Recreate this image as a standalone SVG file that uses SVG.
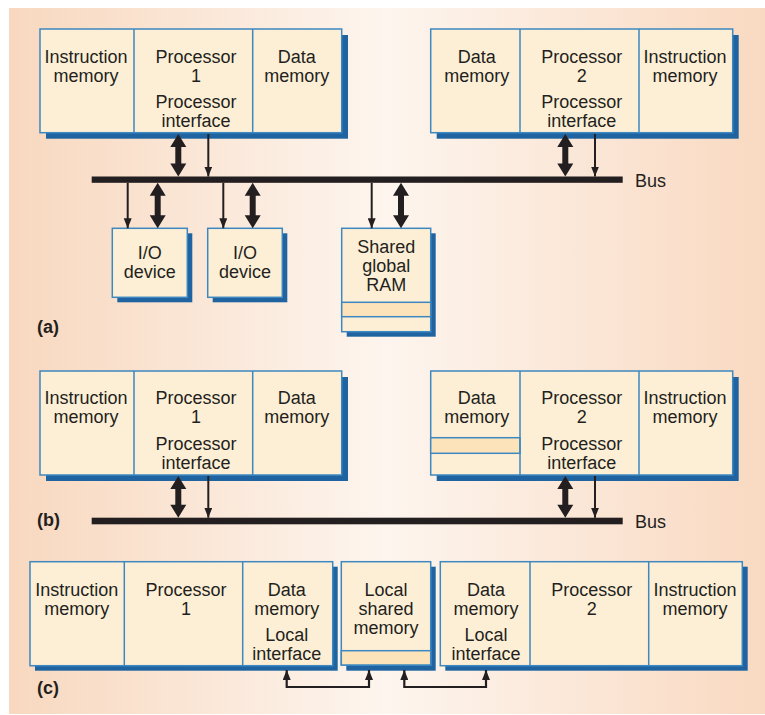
<svg xmlns="http://www.w3.org/2000/svg" width="765" height="715" viewBox="0 0 765 715">
<defs>
<linearGradient id="bg" x1="0" y1="0" x2="1" y2="0">
<stop offset="0" stop-color="#f8d8bf"/>
<stop offset="0.5" stop-color="#fdf5ee"/>
<stop offset="1" stop-color="#f9d9c1"/>
</linearGradient>
<marker id="ah" viewBox="0 0 10 8" refX="10" refY="4" markerWidth="10" markerHeight="8" markerUnits="userSpaceOnUse" orient="auto-start-reverse">
<path d="M0,0 L10,4 L0,8 Z" fill="#231f20"/>
</marker>
</defs>
<style>
.sh{fill:#1f64a0}
.bx{fill:#fdefd6;stroke:#3d88c0;stroke-width:1.5}
.st{fill:#fde3b9;stroke:#3d88c0;stroke-width:1.5}
.dv{stroke:#3d88c0;stroke-width:1.5;fill:none}
.t{font-family:"Liberation Sans",Arial,sans-serif;font-size:18px;fill:#231f20;text-anchor:middle}
.lb{font-family:"Liberation Sans",Arial,sans-serif;font-size:18px;font-weight:bold;fill:#231f20}
.bl{font-family:"Liberation Sans",Arial,sans-serif;font-size:18px;fill:#231f20}
.bus{fill:#231f20}
.thin{stroke:#231f20;stroke-width:2;fill:none;marker-end:url(#ah)}
.thk{fill:#231f20}
.cn{stroke:#231f20;stroke-width:2.2;fill:none;marker-start:url(#ah);marker-end:url(#ah)}
</style>
<rect x="9" y="8" width="756" height="706" fill="url(#bg)"/>

<!-- (a) -->
<g id="a-proc1">
<rect class="sh" x="46" y="35" width="302" height="103.7"/>
<rect class="bx" x="40" y="29" width="301.7" height="103.7"/>
<line class="dv" x1="134" y1="29" x2="134" y2="132.7"/>
<line class="dv" x1="252.7" y1="29" x2="252.7" y2="132.7"/>
<text class="t" x="86" y="63.3">Instruction</text>
<text class="t" x="86" y="82.3">memory</text>
<text class="t" x="196" y="63.3">Processor</text>
<text class="t" x="196" y="82.3">1</text>
<text class="t" x="196" y="108">Processor</text>
<text class="t" x="196" y="127">interface</text>
<text class="t" x="296.7" y="63.3">Data</text>
<text class="t" x="296.7" y="82.3">memory</text>
</g>
<g id="a-proc2">
<rect class="sh" x="436.7" y="35" width="302" height="103.7"/>
<rect class="bx" x="430.7" y="29" width="302" height="103.7"/>
<line class="dv" x1="520" y1="29" x2="520" y2="132.7"/>
<line class="dv" x1="639" y1="29" x2="639" y2="132.7"/>
<text class="t" x="476.7" y="63.3">Data</text>
<text class="t" x="476.7" y="82.3">memory</text>
<text class="t" x="581.7" y="63.3">Processor</text>
<text class="t" x="581.7" y="82.3">2</text>
<text class="t" x="581.7" y="108">Processor</text>
<text class="t" x="581.7" y="127">interface</text>
<text class="t" x="685" y="63.3">Instruction</text>
<text class="t" x="685" y="82.3">memory</text>
</g>
<g id="a-bus">
<rect class="bus" x="91.7" y="176.5" width="531" height="6.3"/>
<text class="bl" x="635" y="186.7">Bus</text>
</g>
<g id="a-io1">
<rect class="sh" x="117.3" y="233.3" width="75" height="69"/>
<rect class="bx" x="112.3" y="228.3" width="75" height="69"/>
<text class="t" x="149.8" y="258.8">I/O</text>
<text class="t" x="149.8" y="277.8">device</text>
</g>
<g id="a-io2">
<rect class="sh" x="212.7" y="233.3" width="74.6" height="69"/>
<rect class="bx" x="207.7" y="228.3" width="74.6" height="69"/>
<text class="t" x="245" y="258.8">I/O</text>
<text class="t" x="245" y="277.8">device</text>
</g>
<g id="a-ram">
<rect class="sh" x="346.7" y="233.3" width="89" height="103.4"/>
<rect class="bx" x="341.7" y="228.3" width="89" height="103.4"/>
<rect class="st" x="341.7" y="302.3" width="89" height="14.4"/>
<text class="t" x="386.2" y="252.7">Shared</text>
<text class="t" x="386.2" y="271.7">global</text>
<text class="t" x="386.2" y="290.7">RAM</text>
</g>
<text class="lb" x="37" y="333">(a)</text>

<!-- (b) -->
<g id="b-proc1">
<rect class="sh" x="46" y="377" width="302" height="104"/>
<rect class="bx" x="40" y="371" width="301.7" height="104"/>
<line class="dv" x1="134" y1="371" x2="134" y2="475"/>
<line class="dv" x1="252.7" y1="371" x2="252.7" y2="475"/>
<text class="t" x="86" y="404.3">Instruction</text>
<text class="t" x="86" y="423.3">memory</text>
<text class="t" x="196" y="404.3">Processor</text>
<text class="t" x="196" y="423.3">1</text>
<text class="t" x="196" y="449.5">Processor</text>
<text class="t" x="196" y="468.7">interface</text>
<text class="t" x="296.7" y="404.3">Data</text>
<text class="t" x="296.7" y="423.3">memory</text>
</g>
<g id="b-proc2">
<rect class="sh" x="436.7" y="377" width="302" height="104"/>
<rect class="bx" x="430.7" y="371" width="302" height="104"/>
<rect class="st" x="430.7" y="437.7" width="89.3" height="15.6"/>
<line class="dv" x1="520" y1="371" x2="520" y2="475"/>
<line class="dv" x1="639" y1="371" x2="639" y2="475"/>
<text class="t" x="476.7" y="404.3">Data</text>
<text class="t" x="476.7" y="423.3">memory</text>
<text class="t" x="581.7" y="404.3">Processor</text>
<text class="t" x="581.7" y="423.3">2</text>
<text class="t" x="581.7" y="449.5">Processor</text>
<text class="t" x="581.7" y="468.7">interface</text>
<text class="t" x="685" y="404.3">Instruction</text>
<text class="t" x="685" y="423.3">memory</text>
</g>
<g id="b-bus">
<rect class="bus" x="91.7" y="517.7" width="531" height="6.6"/>
<text class="bl" x="635" y="528">Bus</text>
</g>
<text class="lb" x="37" y="526">(b)</text>

<!-- (c) -->
<g id="c-proc1">
<rect class="sh" x="35" y="566.7" width="302.7" height="104"/>
<rect class="bx" x="30" y="561.7" width="302.7" height="104"/>
<line class="dv" x1="124.3" y1="561.7" x2="124.3" y2="665.7"/>
<line class="dv" x1="242.7" y1="561.7" x2="242.7" y2="665.7"/>
<text class="t" x="76.7" y="596">Instruction</text>
<text class="t" x="76.7" y="615">memory</text>
<text class="t" x="186" y="596">Processor</text>
<text class="t" x="186" y="615">1</text>
<text class="t" x="286.7" y="596">Data</text>
<text class="t" x="286.7" y="615">memory</text>
<text class="t" x="286.7" y="640.5">Local</text>
<text class="t" x="286.7" y="659.5">interface</text>
</g>
<g id="c-shared">
<rect class="sh" x="346.3" y="566.7" width="89.4" height="104"/>
<rect class="bx" x="341.3" y="561.7" width="89.4" height="103.3"/>
<rect class="st" x="341.3" y="650.7" width="89.4" height="14.3"/>
<text class="t" x="386" y="596">Local</text>
<text class="t" x="386" y="615">shared</text>
<text class="t" x="386" y="634">memory</text>
</g>
<g id="c-proc2">
<rect class="sh" x="445.3" y="566.7" width="302.4" height="104"/>
<rect class="bx" x="440.3" y="561.7" width="302" height="104"/>
<line class="dv" x1="530" y1="561.7" x2="530" y2="665.7"/>
<line class="dv" x1="648.7" y1="561.7" x2="648.7" y2="665.7"/>
<text class="t" x="486" y="596">Data</text>
<text class="t" x="486" y="615">memory</text>
<text class="t" x="486" y="640.5">Local</text>
<text class="t" x="486" y="659.5">interface</text>
<text class="t" x="591.7" y="596">Processor</text>
<text class="t" x="591.7" y="615">2</text>
<text class="t" x="695" y="596">Instruction</text>
<text class="t" x="695" y="615">memory</text>
</g>
<text class="lb" x="37" y="694">(c)</text>

<g id="connectors">
<!-- (a) processor 1 -->
<path class="thk" d="M178.3,134 L186.3,147 L181.3,147 L181.3,163.5 L186.3,163.5 L178.3,176.5 L170.3,163.5 L175.3,163.5 L175.3,147 L170.3,147 Z"/>
<line class="thin" x1="208.3" y1="134" x2="208.3" y2="176.5"/>
<!-- (a) processor 2 -->
<path class="thk" d="M565.3,134 L573.3,147 L568.3,147 L568.3,163.5 L573.3,163.5 L565.3,176.5 L557.3,163.5 L562.3,163.5 L562.3,147 L557.3,147 Z"/>
<line class="thin" x1="595" y1="134" x2="595" y2="176.5"/>
<!-- (a) I/O 1 -->
<line class="thin" x1="127.7" y1="182.8" x2="127.7" y2="228.3"/>
<path class="thk" d="M157.7,182.8 L165.7,195.8 L160.7,195.8 L160.7,215.3 L165.7,215.3 L157.7,228.3 L149.7,215.3 L154.7,215.3 L154.7,195.8 L149.7,195.8 Z"/>
<!-- (a) I/O 2 -->
<line class="thin" x1="223.3" y1="182.8" x2="223.3" y2="228.3"/>
<path class="thk" d="M252.7,182.8 L260.7,195.8 L255.7,195.8 L255.7,215.3 L260.7,215.3 L252.7,228.3 L244.7,215.3 L249.7,215.3 L249.7,195.8 L244.7,195.8 Z"/>
<!-- (a) RAM -->
<line class="thin" x1="371.7" y1="182.8" x2="371.7" y2="228.3"/>
<path class="thk" d="M401,182.8 L409,195.8 L404,195.8 L404,215.3 L409,215.3 L401,228.3 L393,215.3 L398,215.3 L398,195.8 L393,195.8 Z"/>
<!-- (b) processor 1 -->
<path class="thk" d="M178.3,476 L186.3,489 L181.3,489 L181.3,504.7 L186.3,504.7 L178.3,517.7 L170.3,504.7 L175.3,504.7 L175.3,489 L170.3,489 Z"/>
<line class="thin" x1="208.3" y1="476" x2="208.3" y2="517.7"/>
<!-- (b) processor 2 -->
<path class="thk" d="M565.3,476 L573.3,489 L568.3,489 L568.3,504.7 L573.3,504.7 L565.3,517.7 L557.3,504.7 L562.3,504.7 L562.3,489 L557.3,489 Z"/>
<line class="thin" x1="595" y1="476" x2="595" y2="517.7"/>
<!-- (c) local interfaces -->
<path class="cn" d="M286.7,670 V687 H369 V670"/>
<path class="cn" d="M404.3,670 V687 H486 V670"/>
</g>
</svg>
